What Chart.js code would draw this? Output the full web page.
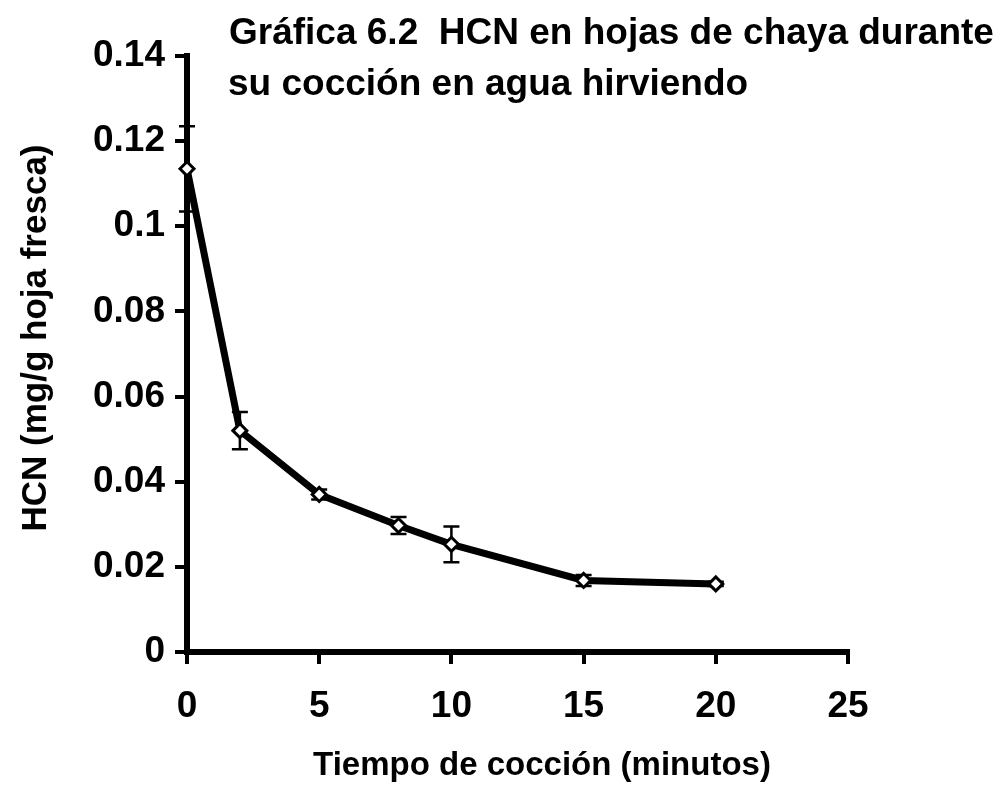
<!DOCTYPE html>
<html>
<head>
<meta charset="utf-8">
<script src="https://cdn.jsdelivr.net/npm/chart.js@4"></script>
<style>
  html, body { margin: 0; padding: 0; background: #fff; }
  #wrap { width: 1007px; height: 786px; position: relative; }
</style>
</head>
<body>
<div id="wrap"><canvas id="hcnChart"></canvas></div>
<script>
// HCN in chaya leaves during boiling
const timeMin = [0, 2, 5, 8, 10, 15, 20];
const hcnMean = [0.1135, 0.052, 0.037, 0.0297, 0.0253, 0.0168, 0.016];
const hcnErr = [0.010, 0.0044, 0.0012, 0.002, 0.0042, 0.0013, 0.0005];
const titleLines = ['Gráfica 6.2  HCN en hojas de chaya durante', 'su cocción en agua hirviendo'];
const xTitle = 'Tiempo de cocción (minutos)';
const yTitle = 'HCN (mg/g hoja fresca)';

const FONT = '"Liberation Sans", Arial, sans-serif';

// error bars drawn through the chart scales
const errorBars = {
  id: 'errorBars',
  beforeDatasetsDraw(chart) {
    const { ctx, scales: { x, y } } = chart;
    ctx.save();
    ctx.strokeStyle = '#000';
    ctx.lineWidth = 2.5;
    timeMin.forEach((t, i) => {
      const px = x.getPixelForValue(t);
      const top = y.getPixelForValue(hcnMean[i] + hcnErr[i]);
      const bot = y.getPixelForValue(hcnMean[i] - hcnErr[i]);
      ctx.beginPath();
      ctx.moveTo(px, top); ctx.lineTo(px, bot);
      ctx.moveTo(px - 8, top); ctx.lineTo(px + 8, top);
      ctx.moveTo(px - 8, bot); ctx.lineTo(px + 8, bot);
      ctx.stroke();
    });
    ctx.restore();
  }
};

// title inside the plot plus the two axis titles, placed like the scan
const figureText = {
  id: 'figureText',
  afterDraw(chart) {
    const ctx = chart.ctx;
    ctx.save();
    ctx.fillStyle = '#000';
    ctx.textBaseline = 'alphabetic';
    ctx.textAlign = 'left';
    ctx.font = 'bold 37px ' + FONT;
    ctx.fillText(titleLines[0], 229, 44);
    ctx.fillText(titleLines[1], 228, 95);

    ctx.textAlign = 'center';
    ctx.font = 'bold 33px ' + FONT;
    ctx.fillText(xTitle, 542, 775);

    ctx.translate(46, 338);
    ctx.rotate(-Math.PI / 2);
    ctx.font = 'bold 35px ' + FONT;
    ctx.fillText(yTitle, 0, 0);
    ctx.restore();
  }
};

const ctx = document.getElementById('hcnChart');
new Chart(ctx, {
  type: 'scatter',
  data: {
    datasets: [{
      data: timeMin.map((t, i) => ({ x: t, y: hcnMean[i] })),
      showLine: true,
      borderColor: '#000',
      borderWidth: 7,
      pointStyle: 'rectRot',
      pointRadius: 7,
      pointBackgroundColor: '#fff',
      pointBorderColor: '#000',
      pointBorderWidth: 3,
      clip: false
    }]
  },
  options: {
    responsive: true,
    maintainAspectRatio: false,
    animation: false,
    layout: { padding: { top: 56, right: 159, left: 0, bottom: 0 } },
    plugins: {
      legend: { display: false },
      tooltip: { enabled: false },
      title: { display: false }
    },
    scales: {
      x: {
        type: 'linear',
        min: 0,
        max: 25,
        afterFit: s => { s.height = 134; },
        border: { display: true, color: '#000', width: 6 },
        grid: { drawOnChartArea: false, drawTicks: true, tickLength: 12, color: '#000', lineWidth: 4 },
        ticks: {
          stepSize: 5,
          color: '#000',
          padding: 21,
          font: { family: FONT, size: 37, weight: 'bold' }
        }
      },
      y: {
        min: 0,
        max: 0.14,
        afterFit: s => { s.width = 187; },
        border: { display: true, color: '#000', width: 6 },
        grid: { drawOnChartArea: false, drawTicks: true, tickLength: 12, color: '#000', lineWidth: 4 },
        ticks: {
          stepSize: 0.02,
          color: '#000',
          padding: 10,
          font: { family: FONT, size: 37, weight: 'bold' },
          callback: v => String(+v.toFixed(2))
        }
      }
    }
  },
  plugins: [errorBars, figureText]
});
</script>
</body>
</html>
